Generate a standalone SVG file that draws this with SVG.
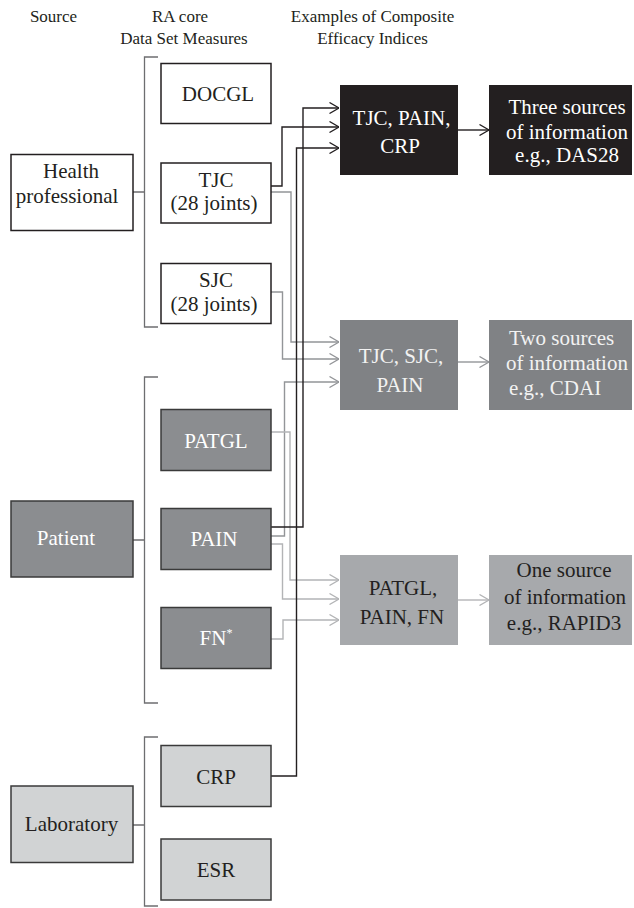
<svg xmlns="http://www.w3.org/2000/svg" width="634" height="908" viewBox="0 0 634 908">
<style>
text{font-family:'Liberation Serif','DejaVu Serif',serif;font-size:21px;text-anchor:middle;fill:#231f20}
.hd{font-size:17px}
.w{fill:#ffffff}
.lt{fill:#f2f2f2}
.bw{fill:#ffffff;stroke:#231f20;stroke-width:1.5}
.bp{fill:#8b8d90;stroke:#3a3a3a;stroke-width:1.5}
.bl{fill:#d1d3d4;stroke:#3a3a3a;stroke-width:1.5}
.brk{fill:none;stroke:#6d6e70;stroke-width:1.3}
.ck{fill:none;stroke:#231f20;stroke-width:1.4}
.cm{fill:none;stroke:#939598;stroke-width:1.4}
.cl{fill:none;stroke:#b3b4b6;stroke-width:1.4}
</style>
<defs>
<marker id="ak" markerUnits="userSpaceOnUse" viewBox="0 0 10 12" refX="10" refY="6" markerWidth="10" markerHeight="12" orient="auto"><path d="M0.5,0.5 L10,6 L0.5,11.5" fill="none" stroke="#231f20" stroke-width="1.3"/></marker>
<marker id="am" markerUnits="userSpaceOnUse" viewBox="0 0 10 12" refX="10" refY="6" markerWidth="10" markerHeight="12" orient="auto"><path d="M0.5,0.5 L10,6 L0.5,11.5" fill="none" stroke="#939598" stroke-width="1.3"/></marker>
<marker id="al" markerUnits="userSpaceOnUse" viewBox="0 0 10 12" refX="10" refY="6" markerWidth="10" markerHeight="12" orient="auto"><path d="M0.5,0.5 L10,6 L0.5,11.5" fill="none" stroke="#b3b4b6" stroke-width="1.3"/></marker>
</defs>
<rect width="634" height="908" fill="#ffffff"/>
<g id="headers">
<text class="hd" x="53.5" y="22">Source</text>
<text class="hd" x="180" y="22">RA core</text>
<text class="hd" x="184" y="43.5">Data Set Measures</text>
<text class="hd" x="372.5" y="22">Examples of Composite</text>
<text class="hd" x="372.5" y="43.5">Efficacy Indices</text>
</g>
<g id="brackets">
<path class="brk" d="M158,57 H144.5 V327 H158 M133,192 H144.5"/>
<path class="brk" d="M158,377 H144.5 V703 H158 M133,540 H144.5"/>
<path class="brk" d="M158,737 H144.5 V906 H158 M133,825 H144.5"/>
</g>
<g id="connectors">
<path class="cm" d="M271,192 H291 V342 H339" marker-end="url(#am)"/>
<path class="cm" d="M271,292 H282.5 V359 H339" marker-end="url(#am)"/>
<path class="cm" d="M271,536 H284.5 V382 H339" marker-end="url(#am)"/>
<path class="cm" d="M458,362 H489" marker-end="url(#am)"/>
<path class="cl" d="M271,432 H290 V580 H339" marker-end="url(#al)"/>
<path class="cl" d="M271,544 H282.5 V599 H339" marker-end="url(#al)"/>
<path class="cl" d="M271,639 H283 V620 H339" marker-end="url(#al)"/>
<path class="cl" d="M458,600 H489" marker-end="url(#al)"/>
<path class="ck" d="M271,186 H282 V127 H339" marker-end="url(#ak)"/>
<path class="ck" d="M271,527 H303 V108 H339" marker-end="url(#ak)"/>
<path class="ck" d="M271,776 H296.5 V148 H339" marker-end="url(#ak)"/>
<path class="ck" d="M458,130 H489" marker-end="url(#ak)"/>
</g>
<g id="health-professional"><rect class="bw" x="11" y="154.5" width="122" height="76"/><text x="71" y="178">Health</text><text x="67" y="203">professional</text></g>
<g id="docgl"><rect class="bw" x="161" y="63.5" width="110" height="60"/><text x="218" y="100.5">DOCGL</text></g>
<g id="tjc"><rect class="bw" x="161" y="163" width="110" height="60"/><text x="216" y="186.5">TJC</text><text x="214" y="210">(28 joints)</text></g>
<g id="sjc"><rect class="bw" x="161" y="263.5" width="110" height="60"/><text x="216" y="287">SJC</text><text x="214" y="310.5">(28 joints)</text></g>
<g id="patient"><rect class="bp" x="11" y="501" width="122" height="76"/><text class="w" x="66" y="545">Patient</text></g>
<g id="patgl"><rect class="bp" x="161" y="409.5" width="110" height="61"/><text class="w" x="216" y="447.5">PATGL</text></g>
<g id="pain"><rect class="bp" x="161" y="508.5" width="110" height="61"/><text class="w" x="214" y="546">PAIN</text></g>
<g id="fn"><rect class="bp" x="161" y="607.5" width="110" height="61"/><text class="w" x="216" y="645">FN<tspan font-size="12" dy="-8">*</tspan></text></g>
<g id="laboratory"><rect class="bl" x="11" y="786" width="122" height="76.5"/><text x="71.5" y="830.5">Laboratory</text></g>
<g id="crp"><rect class="bl" x="161" y="745.5" width="110" height="61"/><text x="216" y="783.5">CRP</text></g>
<g id="esr"><rect class="bl" x="161" y="839" width="110" height="61"/><text x="216" y="877">ESR</text></g>
<g id="idx-three"><rect x="340" y="85" width="118" height="90" fill="#231f20"/><text class="w" x="401.5" y="125">TJC, PAIN,</text><text class="w" x="400" y="153">CRP</text></g>
<g id="das28"><rect x="489" y="85" width="143" height="90" fill="#231f20"/><text class="w" x="567" y="113.5">Three sources</text><text class="w" x="567" y="138.5">of information</text><text class="w" x="567" y="162">e.g., DAS28</text></g>
<g id="idx-two"><rect x="340" y="320" width="118" height="90" fill="#808285"/><text class="lt" x="401" y="363">TJC, SJC,</text><text class="lt" x="400" y="391.5">PAIN</text></g>
<g id="cdai"><rect x="489" y="320" width="143" height="90" fill="#808285"/><text class="lt" x="509" y="345" style="text-anchor:start">Two sources</text><text class="lt" x="506" y="370" style="text-anchor:start">of information</text><text class="lt" x="509" y="395" style="text-anchor:start">e.g., CDAI</text></g>
<g id="idx-one"><rect x="340" y="555" width="118" height="90" fill="#a7a9ac"/><text x="403" y="595">PATGL,</text><text x="402" y="623.5">PAIN, FN</text></g>
<g id="rapid3"><rect x="489" y="555" width="143" height="90" fill="#a7a9ac"/><text x="564" y="577">One source</text><text x="565" y="603.5">of information</text><text x="564" y="630">e.g., RAPID3</text></g>
</svg>
